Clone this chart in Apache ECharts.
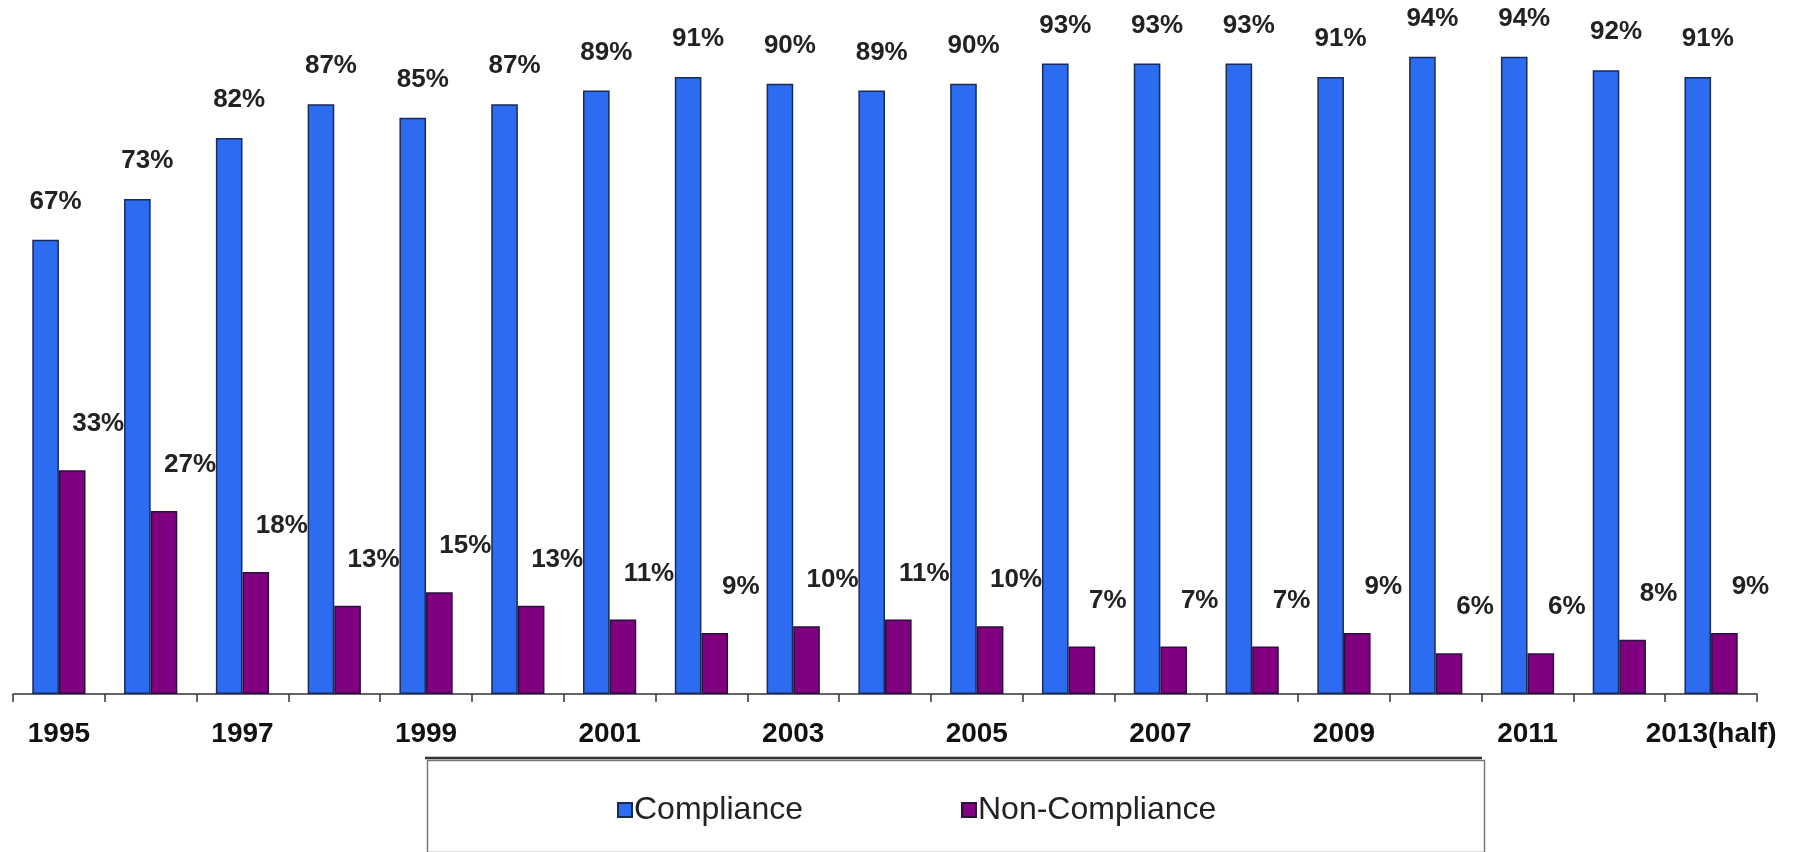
<!DOCTYPE html>
<html>
<head>
<meta charset="utf-8">
<script src="https://cdn.jsdelivr.net/npm/echarts@6/dist/echarts.min.js"></script>
<style>
html,body{margin:0;padding:0;background:#fff;}
#chart{width:1804px;height:852px;}
</style>
</head>
<body>
<div id="chart"></div>
<script>
const categories = ['1995','1996','1997','1998','1999','2000','2001','2002','2003','2004','2005','2006','2007','2008','2009','2010','2011','2012','2013(half)'];
const compliance = [67,73,82,87,85,87,89,91,90,89,90,93,93,93,91,94,94,92,91];
const nonCompliance = [33,27,18,13,15,13,11,9,10,11,10,7,7,7,9,6,6,8,9];
const seriesNames = ['Compliance','Non-Compliance'];

const chart = echarts.init(document.getElementById('chart'));
const labelFont = {fontFamily:'Liberation Sans, Arial, sans-serif', fontWeight:'bold', fontSize:26, color:'#222'};
chart.setOption({
  backgroundColor:'#ffffff',
  animation:false,
  grid:{left:13,right:47,top:16,bottom:158,containLabel:false},
  xAxis:{
    type:'category',
    data:categories,
    boundaryGap:true,
    axisLine:{show:true,lineStyle:{color:'#333',width:1.5}},
    axisTick:{show:true,interval:0,length:8,lineStyle:{color:'#333',width:1.5}},
    axisLabel:{interval:1,margin:26,fontFamily:'Liberation Sans, Arial, sans-serif',fontWeight:'bold',fontSize:28,color:'#111'}
  },
  yAxis:{type:'value',min:0,max:100,show:false,splitLine:{show:false}},
  legend:{
    data:seriesNames,
    left:612,top:789,
    itemWidth:14,itemHeight:14,itemGap:158,
    icon:'rect',
    textStyle:{fontFamily:'Liberation Sans, Arial, sans-serif',fontSize:32,color:'#222',padding:[0,0,0,-3]}
  },
  graphic:[
    {type:'rect',left:425,top:758,shape:{width:1057,height:92},style:{fill:'none',stroke:'#777',lineWidth:1.5},silent:true},
    {type:'line',shape:{x1:425,y1:758,x2:1482,y2:758},style:{stroke:'#333',lineWidth:2.5},silent:true}
  ],
  series:[
    {
      name:seriesNames[0],type:'bar',data:compliance,barWidth:'29%',barGap:'0%',
      itemStyle:{color:'#2B6CF0',borderColor:'#1a2a5a',borderWidth:1.5},
      label:{show:true,position:'top',distance:5,offset:[10,-20],formatter:'{c}%',...labelFont}
    },
    {
      name:seriesNames[1],type:'bar',data:nonCompliance,barWidth:'29%',barGap:'0%',
      itemStyle:{color:'#800080',borderColor:'#2a1040',borderWidth:1.5},
      label:{show:true,position:'top',distance:5,offset:[26,-28],formatter:'{c}%',...labelFont}
    }
  ]
});
</script>
</body>
</html>
